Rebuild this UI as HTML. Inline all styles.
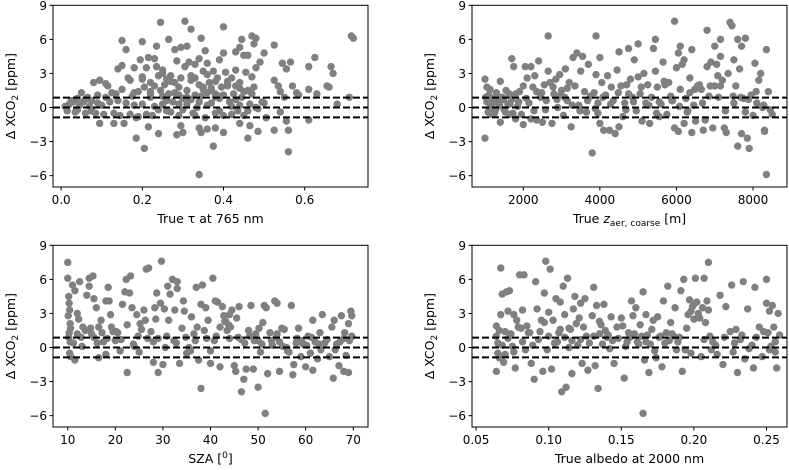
<!DOCTYPE html>
<html><head><meta charset="utf-8"><style>
body{margin:0;background:#fff;}
svg{display:block;font-family:"DejaVu Sans","Liberation Sans",sans-serif;}
</style></head><body>
<svg id="fig" width="789" height="470" viewBox="0 0 789 470" xmlns="http://www.w3.org/2000/svg"></svg>
<script>
const tauX=[0.01,0.015,0.02,0.03,0.035,0.04,0.045,0.05,0.055,0.06,0.065,0.07,0.075,0.08,0.085,0.09,0.095,0.1,0.105,0.11,0.115,0.12,0.125,0.135,0.14,0.145,0.15,0.15,0.16,0.165,0.17,0.175,0.18,0.185,0.19,0.195,0.2,0.205,0.21,0.215,0.22,0.22,0.225,0.23,0.235,0.24,0.245,0.25,0.25,0.255,0.26,0.265,0.27,0.275,0.28,0.285,0.29,0.29,0.295,0.3,0.305,0.31,0.315,0.32,0.325,0.33,0.33,0.335,0.34,0.34,0.345,0.35,0.355,0.36,0.36,0.365,0.37,0.375,0.38,0.38,0.385,0.39,0.39,0.395,0.4,0.405,0.41,0.415,0.42,0.425,0.43,0.435,0.44,0.445,0.45,0.455,0.46,0.465,0.47,0.475,0.48,0.485,0.49,0.495,0.5,0.525,0.535,0.54,0.545,0.55,0.555,0.565,0.57,0.58,0.585,0.61,0.61,0.625,0.63,0.655,0.66,0.665,0.67,0.68,0.71,0.54,
0.245,0.305,0.32,0.4,0.15,0.2,0.235,0.265,0.28,0.295,0.31,0.345,0.355,0.43,0.445,0.45,0.47,0.48,0.46,0.475,0.5,0.525,0.715,0.72,0.16,0.4,0.44,
0.205,0.34,0.375,0.56,0.185,0.46,0.285,0.24,0.345,0.4,0.485,0.525,0.56,0.3,0.34,0.295,0.38,0.36,0.465,0.555,0.61,0.215,0.13,0.095,0.155,0.44,0.505,
0.025,0.04,0.06,0.075,0.09,0.11,0.13,0.14,0.17,0.18,0.19,0.2,0.21,0.22,0.23,0.24,0.25,0.26,0.27,0.28,0.29,0.3,0.31,0.32,0.33,0.34,0.35,0.36,0.37,0.38,0.39,0.4,0.41,0.42,0.43,0.44,0.45,0.46,0.47,0.48,0.2,0.23,0.26,0.29,0.32,0.35,0.38,0.41,0.44,0.27,0.33,0.36,0.39,0.42,0.31,0.25,0.22,0.18,0.37,0.43];
const tauY=[0.1,-0.3,0.3,0.5,-0.4,0.8,0.2,1.3,0.5,-0.5,0.9,0.1,0.6,2.2,-0.5,1.1,2.4,0.2,-0.6,2.1,1.9,0.5,1.3,1.2,3.4,-0.7,3.7,1.6,0.4,2.6,2.4,1.0,3.5,-0.9,1.4,4.2,2.7,1.8,3.5,4.4,2.2,0.9,-0.7,4.3,3.6,2.8,1.5,0.3,3.3,2.0,-0.3,1.2,2.8,0.5,2.2,4.1,1.8,-0.7,2.6,0.8,3.6,1.5,4.0,2.4,-0.5,3.8,1.1,0.0,2.0,4.3,1.0,3.2,-0.9,3.9,1.3,2.2,0.4,3.2,1.2,-0.5,2.6,4.2,0.8,1.8,-0.7,3.1,1.9,0.5,2.6,1.2,3.3,-0.3,2.2,0.9,1.4,3.1,-0.3,0.3,2.7,1.8,3.5,-0.1,4.0,0.5,0.4,2.4,1.9,1.4,3.9,0.9,3.4,4.0,1.9,1.3,1.1,3.6,1.6,4.4,1.2,1.9,1.8,3.6,3.0,0.3,0.9,-0.4,
7.5,7.6,6.9,7.1,5.9,5.8,5.4,6.0,5.1,5.3,5.4,6.1,5.0,4.9,6.0,4.6,6.3,6.1,4.6,5.6,4.8,5.5,6.3,6.1,5.1,4.8,5.3,
-3.6,-5.9,-3.4,-3.9,-2.7,-2.7,-2.4,-2.3,-2.2,-2.2,-2.1,-2.0,-2.0,-2.2,-1.8,-1.6,-1.8,-1.9,-1.6,-1.2,-1.1,-1.7,-1.4,-1.4,-1.4,-1.4,-0.9,
0.6,-0.2,0.7,-0.3,0.4,0.9,-0.5,0.6,-0.6,0.2,-0.8,0.3,-0.6,1.4,0.1,-0.2,1.0,0.6,-0.4,1.3,0.3,-0.2,0.9,0.7,-0.7,0.5,1.6,0.2,1.7,0.9,-0.3,1.1,2.3,-0.6,1.9,0.2,-0.7,1.5,1.2,0.0,2.5,1.9,2.5,1.1,2.8,1.8,2.3,2.0,1.7,2.3,2.6,2.9,1.0,0.1,0.3,3.0,1.2,1.3,1.5,0.7];
const zX=[1000,1000,1050,1050,1100,1100,1150,1200,1250,1300,1350,1400,1400,1450,1500,1550,1600,1650,1700,1700,1750,1800,1800,1850,1900,1950,2000,2000,2050,2100,2150,2200,2200,2250,2300,2350,2400,2450,2500,2550,2600,2650,2650,2700,2750,2800,2850,2900,2950,3000,3050,3100,3150,3200,3250,3300,3350,3400,3450,3500,3550,3600,3650,3700,3750,3800,3850,3900,3900,3950,4000,4000,4050,4100,4150,4200,4250,4300,4350,4400,4450,4500,4500,4550,4600,4650,4700,4750,4800,4850,4900,4950,5000,5000,5050,5100,5150,5200,5250,5300,5350,5400,5450,5450,5500,5550,5600,5650,5700,5750,5800,5850,5900,5950,5950,6000,6050,6050,6100,6100,6150,6200,6200,6250,6300,6350,6400,6400,6450,6500,6550,6600,6650,6700,6750,6800,6800,6850,6900,6950,7000,7000,7050,7100,7150,7150,7200,7250,7300,7350,7400,7450,7500,7500,7550,7600,7600,7650,7700,7700,7750,7800,7800,7850,7900,7950,8000,8050,8100,8150,8200,8250,8300,8350,8350,8400,8450,8500,8300,
1020,1080,1130,1180,1230,1280,1330,1380,1480,1530,1630,1730,1880,2080,2280,2480,2580,2780,2880,2980,3080,3280,3480,3680,3880,4080,4280,4480,4680,4880,5080,5280,5480,5680,5880,6080,6280,6480,6680,6880,7080,7280,7480,7680,7880,8080,8280,1150,1650,2350,3150,3950,4750,5550,6350,7150];
const zY=[2.5,-2.7,1.8,0.5,-0.3,1.1,0.2,0.8,-0.5,1.3,0.4,2.3,-1.3,0.9,-0.2,1.5,0.3,-0.6,4.3,0.7,3.6,-1.0,1.2,0.1,1.4,-0.6,1.9,-1.5,3.6,2.6,0.4,3.6,-1.0,1.8,2.8,-1.1,4.1,0.9,-1.3,2.0,0.6,6.3,3.2,2.2,-1.4,1.2,2.5,0.0,2.9,1.5,-0.7,3.4,0.6,2.2,-1.7,4.4,1.9,4.8,0.2,3.2,4.5,1.4,-0.4,3.8,1.0,-4.0,1.3,6.3,2.9,0.4,4.4,-1.4,2.2,-2.0,1.1,2.8,-2.0,1.8,0.6,-2.3,3.3,4.9,-1.7,1.9,-0.8,0.4,2.0,5.2,2.5,0.9,4.2,-0.3,5.6,2.7,1.2,-1.2,3.0,0.4,2.0,-1.4,0.9,5.2,6.0,3.2,1.8,-0.8,0.3,4.0,2.0,-0.6,2.2,1.0,0.6,-1.8,7.6,3.5,-2.1,4.8,5.4,1.6,3.8,4.2,-1.4,0.8,-0.3,1.3,5.1,-2.2,0.2,-1.2,1.9,2.0,1.6,-2.0,-1.1,6.8,3.6,1.0,4.0,-1.8,5.4,1.9,3.8,0.9,6.0,4.5,2.4,-1.8,-2.2,3.0,7.5,7.2,4.2,0.4,1.9,-3.4,6.0,3.4,5.4,-2.3,0.8,6.1,-0.4,-2.7,-3.6,1.1,-0.7,3.9,0.4,2.4,3.0,0.0,-2.1,-5.9,5.1,1.4,-0.2,-0.6,-2.0,
0.9,-0.4,1.6,0.3,0.6,-0.2,1.0,0.2,0.7,-0.4,1.2,-0.5,0.5,0.8,-0.3,1.3,-0.2,1.8,0.7,1.1,0.9,0.2,-0.3,0.6,-0.1,0.9,0.3,1.3,-0.2,0.5,1.8,0.2,-0.5,2.3,0.6,0.1,-0.4,1.6,0.4,1.9,2.8,-0.3,1.0,0.9,0.7,1.4,0.2,-0.6,0.3,1.4,1.7,-0.5,1.2,0.5,2.6,1.9];
const szaX=[10,10,10.2,10.3,10.4,10.5,10.3,10.5,10.4,10.6,11,11.5,11.5,12,12,12.3,12.5,13,13.2,14,14.5,14.5,14.8,15.3,15.5,15.5,16,16.5,16.5,17,17.5,18,18,18.5,18.7,19,19.5,20,21,21.5,22,22.3,22.5,22.5,23,23.2,23.5,24,24.5,25,25.5,26,26.3,26.5,27,27.5,28,28.3,28.5,28.7,29,29,29.5,29.7,30,30.3,30.5,31,31.2,31.5,32,32.3,32.5,33,33,33.5,34,34.3,34.5,35,35.5,36,36.5,37,37.5,38,38,38.3,38.7,39,39.5,40,40,40.5,41,41.5,42,42,42.5,43,43.5,44,44,44.5,45,45.3,45.5,46,46.5,46.5,47,47.5,48,48.5,49,49.5,50,50.2,50.5,51,51.3,51.5,51.7,52,52.5,53,53.5,54,54.5,54.5,55,55.5,56,56.5,57,57.3,57.5,58,58.5,59,59.5,60,60.5,61,61.5,61.5,62,62.5,63,63.5,64,65,65.5,65.8,66,66.5,67,67.5,68,68,68.5,69,69,69.5,69.7,69.7,
10.1,10.2,10.6,11.2,12.8,13.7,15.0,16.2,17.2,18.3,19.2,20.5,21.2,23.8,24.8,26.8,28.0,30.8,32.8,34.8,35.8,36.8,37.2,39.2,40.8,41.2,43.2,44.2,45.8,47.2,48.2,49.2,50.8,52.8,53.8,55.2,56.2,58.2,59.2,60.2,61.2,62.8,63.2,64.5,66.2,67.2,68.2,69.2,42.8,43.8,50.0,54.0,20.2,25.2];
const szaY=[7.5,6.1,4.5,3.9,3.3,2.1,1.3,0.5,-0.5,-0.8,5.5,-1.1,5.0,3.0,1.2,2.5,5.8,0.1,1.8,4.6,5.4,6.1,1.7,6.3,4.3,0.9,3.5,-0.9,1.8,2.4,0.5,4.1,-0.6,5.3,4.1,2.9,1.4,0.6,-0.3,3.8,4.9,6.0,-2.2,2.0,4.8,6.3,3.5,0.1,2.9,-0.4,1.6,3.3,2.4,6.9,7.0,1.4,-1.3,3.5,2.5,4.8,0.8,-2.2,3.9,7.6,-1.5,3.4,0.0,5.4,2.4,4.7,6.0,0.6,3.3,5.8,5.2,-1.4,1.7,4.1,3.2,-0.5,0.0,2.7,1.2,5.3,-1.1,3.8,-3.6,5.5,1.5,3.5,2.4,-0.3,-1.4,6.1,4.1,4.0,1.8,-1.7,3.6,2.3,1.5,0.8,2.9,3.3,-1.6,-2.1,2.6,3.6,0.7,-3.9,-2.8,-1.9,1.5,3.7,-1.9,1.2,-3.5,1.7,-0.4,2.2,3.7,-5.8,3.5,-2.3,1.3,0.2,4.1,3.9,-2.1,0.5,1.7,1.6,0.0,-0.4,3.7,-2.4,-1.5,0.4,1.7,-0.8,0.3,-1.7,1.0,-0.5,2.4,-2.0,0.5,-1.0,1.3,2.9,0.4,-0.8,1.8,-2.7,2.4,0.3,-1.6,2.8,-2.1,0.8,-0.7,2.1,-2.2,3.2,2.8,1.0,
2.8,0.9,1.7,0.4,0.9,1.5,1.2,0.4,1.3,0.8,1.8,1.3,0.7,0.3,1.0,0.8,0.5,1.0,0.4,0.9,-0.3,0.6,1.8,0.8,0.6,1.0,2.3,1.8,0.9,0.4,1.0,0.6,0.3,0.6,0.9,0.1,-0.3,0.8,0.6,0.2,0.9,0.3,-0.2,0.7,-0.2,0.5,1.3,0.6,2.8,2.0,0.6,1.2,1.4,2.1];
const albX=[0.064,0.064,0.065,0.066,0.067,0.067,0.068,0.069,0.07,0.071,0.072,0.073,0.075,0.076,0.077,0.078,0.08,0.081,0.082,0.083,0.084,0.085,0.087,0.088,0.09,0.091,0.092,0.093,0.095,0.096,0.097,0.098,0.099,0.1,0.101,0.102,0.103,0.105,0.106,0.107,0.108,0.109,0.11,0.111,0.112,0.113,0.114,0.115,0.116,0.117,0.118,0.12,0.121,0.122,0.123,0.125,0.126,0.127,0.13,0.131,0.132,0.133,0.134,0.135,0.136,0.137,0.138,0.14,0.142,0.143,0.145,0.147,0.15,0.152,0.153,0.155,0.157,0.158,0.16,0.161,0.163,0.165,0.165,0.166,0.167,0.168,0.169,0.17,0.172,0.174,0.175,0.177,0.178,0.179,0.18,0.182,0.184,0.185,0.187,0.188,0.19,0.191,0.192,0.193,0.195,0.196,0.197,0.198,0.199,0.2,0.201,0.202,0.203,0.205,0.206,0.207,0.208,0.209,0.21,0.211,0.212,0.215,0.218,0.22,0.222,0.225,0.226,0.227,0.229,0.23,0.232,0.234,0.235,0.237,0.24,0.241,0.242,0.245,0.247,0.25,0.25,0.251,0.252,0.253,0.254,0.255,0.256,0.257,0.258,0.259,
0.064,0.065,0.066,0.068,0.07,0.072,0.074,0.076,0.079,0.082,0.086,0.089,0.094,0.097,0.1,0.104,0.108,0.111,0.114,0.116,0.119,0.122,0.124,0.128,0.131,0.135,0.139,0.141,0.144,0.148,0.151,0.154,0.156,0.159,0.162,0.164,0.167,0.171,0.173,0.176,0.181,0.183,0.186,0.189,0.194,0.198,0.2,0.204,0.207,0.21,0.213,0.216,0.221,0.228,0.233,0.238,0.243,0.248,0.252,0.256];
const albY=[1.9,-2.1,0.4,-0.9,7.0,2.9,4.7,-1.3,1.4,4.9,3.2,5.0,0.1,2.9,-1.8,2.4,6.4,1.7,3.3,6.4,-0.2,1.9,1.3,-1.4,-2.8,5.8,3.4,0.7,2.4,-2.1,4.8,7.6,-0.2,3.1,6.9,-1.9,2.4,4.3,0.5,1.3,4.0,-3.9,5.4,2.9,-3.5,6.1,0.0,1.6,-2.3,3.4,4.5,0.2,2.6,3.9,-1.4,4.3,1.0,-2.0,2.8,5.3,-1.6,3.7,-3.6,1.2,2.0,0.3,3.8,0.9,-0.1,2.7,-1.4,1.8,2.6,-2.7,0.1,1.3,4.1,2.8,3.5,0.5,2.0,-5.8,4.9,-1.1,2.9,1.1,-2.2,0.3,2.4,-0.9,2.7,1.0,-1.7,4.1,0.4,5.4,2.2,1.2,3.5,-0.2,0.9,5.0,-2.1,6.0,1.7,2.9,4.2,-0.5,3.6,2.5,6.1,4.0,3.0,-0.8,3.5,6.1,2.2,4.1,7.5,1.0,-0.2,0.2,4.6,-1.5,3.6,1.4,5.5,-0.4,1.6,-2.2,0.7,5.8,-1.0,3.4,0.2,-1.8,5.3,1.8,-0.8,6.0,3.9,1.3,3.2,0.1,3.7,1.8,-0.4,-1.8,3.0,1.1,
1.0,-0.5,1.5,0.2,-0.6,0.8,1.2,-0.4,1.8,0.5,1.3,0.2,1.4,2.2,1.0,0.4,1.6,0.9,1.7,0.6,2.1,0.7,1.8,0.4,1.0,2.3,1.5,1.1,0.6,0.8,1.9,0.5,0.9,1.2,0.3,1.0,0.5,1.6,-0.3,0.9,1.3,0.6,1.0,0.5,-0.2,3.2,3.8,2.6,0.7,3.3,0.5,-0.6,0.9,0.4,1.1,-0.1,0.9,1.4,-0.2,0.5];
const yTicks=[-6,-3,0,3,6,9];
const yTickLabels=["\u22126","\u22123","0","3","6","9"];
const refLines=[-0.87,0,0.87];
const panels=[
 {name:"tau",xs:tauX,ys:tauY,x0:-0.02,x1:0.756,ticks:[0,0.2,0.4,0.6],labels:["0.0","0.2","0.4","0.6"],L:53,R:368,T:5.3,B:187,xl:'True \u03c4 at 765 nm'},
 {name:"zaer",xs:zX,ys:zY,x0:661,x1:8887,ticks:[2000,4000,6000,8000],labels:["2000","4000","6000","8000"],L:472,R:787,T:5.3,B:187,xl:'True <tspan font-style="italic">z</tspan><tspan font-size="9" dy="3">aer, coarse</tspan><tspan dy="-3"> [m]</tspan>'},
 {name:"sza",xs:szaX,ys:szaY,x0:6.9,x1:73.1,ticks:[10,20,30,40,50,60,70],labels:["10","20","30","40","50","60","70"],L:53,R:368,T:245.3,B:427,xl:'SZA [<tspan font-size="9" dy="-5">0</tspan><tspan dy="5">]</tspan>'},
 {name:"albedo",xs:albX,ys:albY,x0:0.0472,x1:0.2641,ticks:[0.05,0.1,0.15,0.2,0.25],labels:["0.05","0.10","0.15","0.20","0.25"],L:472,R:787,T:245.3,B:427,xl:'True albedo at 2000 nm'}
];
const svg=document.getElementById('fig');
const NS="http://www.w3.org/2000/svg";
function mk(tag,attrs,parent){const e=document.createElementNS(NS,tag);for(const k in attrs)e.setAttribute(k,attrs[k]);parent.appendChild(e);return e;}
panels.forEach(p=>{
 const g=mk('g',{},svg);
 
 
 const sx=v=>p.L+(v-p.x0)/(p.x1-p.x0)*(p.R-p.L);
 const sy=v=>p.B-(v-(-7))/(9-(-7))*(p.B-p.T);
 p.xs.forEach((x,i)=>{
  if(typeof p.ys[i]!=='number')return;
  const c=mk('circle',{cx:sx(x),cy:sy(p.ys[i]),r:3.7,fill:'#808080'},g);
  
  
 });
 refLines.forEach(v=>{
  const l=mk('line',{x1:p.L,x2:p.R,y1:sy(v),y2:sy(v),stroke:'#000','stroke-width':2,'stroke-dasharray':'7,3'},g);
  
  
 });
 const f=mk('rect',{x:p.L,y:p.T,width:p.R-p.L,height:p.B-p.T,fill:'none',stroke:'#000','stroke-width':1},g);
 
 
 yTicks.forEach((v,i)=>{
  const y=sy(v);
  mk('line',{x1:p.L-3.5,x2:p.L,y1:y,y2:y,stroke:'#000'},g);
  const t=mk('text',{x:p.L-6,y:y+4.5,'text-anchor':'end','font-size':12,fill:'#000'},g);
  t.textContent=yTickLabels[i];
  
  
 });
 p.ticks.forEach((v,i)=>{
  const x=sx(v);
  mk('line',{x1:x,x2:x,y1:p.B,y2:p.B+3.5,stroke:'#000'},g);
  const t=mk('text',{x:x,y:p.B+17,'text-anchor':'middle','font-size':12,fill:'#000'},g);
  t.textContent=p.labels[i];
  
  
 });
 const xt=mk('text',{x:(p.L+p.R)/2,y:p.B+36,'text-anchor':'middle','font-size':12.5,fill:'#000'},g);
 xt.innerHTML=p.xl;
 
 
 const cy=(p.T+p.B)/2, cx=p.L-38;
 const yt=mk('text',{x:cx,y:cy,'text-anchor':'middle','font-size':12.5,fill:'#000',transform:`rotate(-90 ${cx} ${cy})`},g);
 yt.innerHTML='\u0394 XCO<tspan font-size="9" dy="3">2</tspan><tspan dy="-3"> [ppm]</tspan>';
 
 
});
</script>
</body></html>
